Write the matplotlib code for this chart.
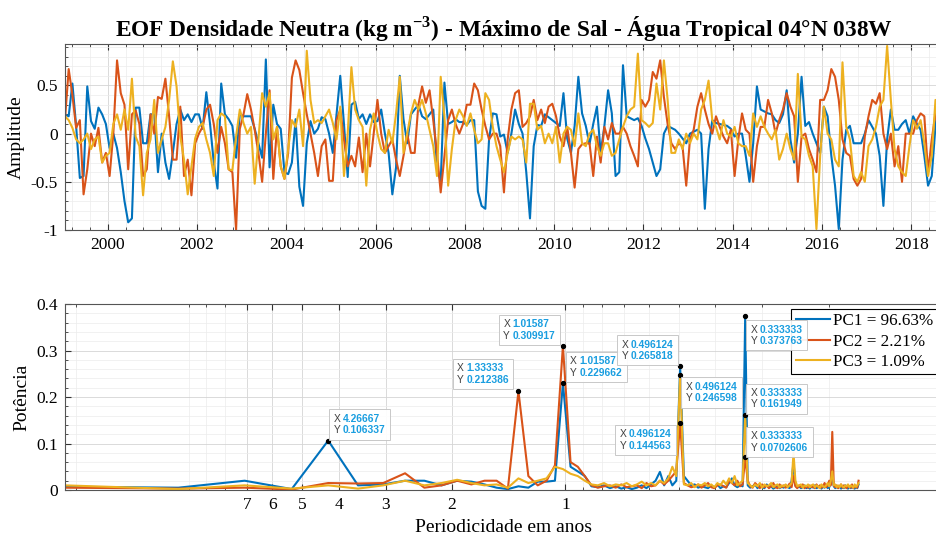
import numpy as np
import matplotlib
matplotlib.use('Agg')
import matplotlib.pyplot as plt
from matplotlib.patches import Rectangle
from matplotlib.ticker import MultipleLocator, FixedLocator, NullFormatter, FuncFormatter

# Monthly principal components, Jan 1999 - Sep 2018 (one row per year)
pc1 = [0.2, 0.18, 0.52, 0.08, -0.46, -0.44, 0.49, 0.13, 0.05, 0.27, 0.2, 0.1,
       -0.15, 0.0, -0.15, -0.4, -0.7, -0.92, -0.88, 0.27, 0.27, -0.1, -0.1, 0.2,
       0.2, -0.4, 0.0, -0.3, -0.47, -0.2, 0.1, 0.25, 0.14, 0.2, 0.12, 0.2,
       0.2, 0.05, 0.43, 0.1, -0.3, -0.57, 0.52, 0.2, 0.15, 0.08, -0.25, 0.2,
       0.18, 0.18, 0.18, 0.05, -0.1, -0.25, 0.77, -0.35, 0.3, 0.1, 0.05, -0.4,
       -0.42, -0.3, 0.15, -0.55, -0.75, -0.1, 0.13, 0.0, 0.05, 0.17, 0.15, 0.0,
       -0.2, 0.2, 0.6, 0.1, -0.45, 0.3, 0.33, 0.15, 0.2, 0.1, 0.2, 0.12,
       0.13, 0.25, 0.0, -0.2, -0.63, -0.35, 0.6, 0.15, -0.1, 0.2, 0.25, 0.3,
       0.18, 0.15, 0.2, 0.25, -0.35, -0.5, 0.53, 0.1, 0.12, 0.15, 0.12, 0.12,
       0.09, 0.14, 0.14, -0.6, -0.75, -0.78, -0.06, 0.21, 0.2, -0.03, -0.01, -0.2,
       0.0, 0.25, 0.1, 0.0, -0.4, -0.88, -0.13, 0.09, 0.08, 0.2, 0.17, 0.14,
       0.11, 0.08, 0.42, -0.05, -0.2, 0.08, 0.59, 0.21, 0.08, -0.11, 0.1, 0.28,
       -0.2, 0.08, 0.45, 0.21, -0.44, -0.4, 0.71, 0.18, 0.16, 0.14, 0.16, 0.08,
       -0.05, -0.16, -0.3, -0.44, -0.37, 0.0, 0.08, 0.06, 0.04, 0.0, -0.05, -0.1,
       0.0, 0.02, 0.04, 0.0, -0.78, -0.16, 0.14, 0.11, 0.1, 0.09, 0.08, 0.05,
       -0.03, 0.0, 0.0, -0.23, -0.5, -0.1, 0.49, 0.25, 0.23, 0.21, 0.2, 0.14,
       0.11, 0.2, 0.45, -0.06, -0.3, 0.0, 0.59, 0.08, 0.12, 0.0, -0.1, -0.2,
       0.28, 0.18, -0.23, -0.54, -0.99, -0.27, 0.04, 0.08, -0.1, -0.1, -0.1, 0.0,
       0.14, 0.07, 0.0, -0.23, -0.75, -0.06, 0.25, 0.04, 0.04, 0.1, 0.14, 0.0,
       0.18, 0.1, 0.04, -0.23, -0.54, -0.44, 0.08, 0.38, 0.0]

pc2 = [0.14, 0.67, 0.4, 0.06, 0.14, -0.63, -0.37, 0.0, -0.13, 0.06, -0.3, -0.2,
       -0.44, 0.0, 0.76, 0.42, 0.3, -0.37, 0.2, 0.24, 0.1, -0.44, -0.37, 0.2,
       0.0, 0.38, 0.36, 0.57, 0.18, -0.27, -0.27, 0.28, -0.44, -0.27, -0.64, -0.1,
       0.0, 0.07, 0.25, 0.3, 0.1, -0.2, 0.07, -0.1, -0.37, -0.4, -1.0, 0.05,
       0.2, 0.41, 0.25, 0.04, -0.2, -0.5, 0.0, 0.45, -0.47, 0.07, -0.34, -0.47,
       -0.2, 0.58, 0.76, 0.66, 0.42, 0.2, 0.0, -0.2, -0.44, -0.13, -0.06, -0.49,
       -0.49, 0.14, 0.25, -0.06, -0.34, -0.23, -0.34, -0.04, -0.4, 0.0, -0.34, 0.0,
       0.35, 0.0, -0.2, -0.13, -0.06, -0.27, -0.44, -0.23, 0.0, -0.2, -0.2, 0.3,
       0.49, 0.32, 0.45, 0.14, -0.2, -0.61, -0.23, 0.14, 0.25, 0.1, 0.0, 0.1,
       0.3, 0.3, 0.52, 0.45, 0.25, 0.08, -0.06, 0.0, 0.0, -0.13, -0.61, -0.06,
       0.25, 0.42, 0.45, 0.07, 0.11, 0.18, 0.35, 0.14, 0.25, 0.11, 0.28, 0.31,
       0.18, -0.03, -0.13, 0.07, -0.2, -0.56, -0.16, -0.11, -0.1, -0.1, -0.44, -0.03,
       -0.3, 0.07, -0.06, 0.11, 0.0, 0.0, 0.07, 0.0, -0.13, -0.23, -0.34, 0.35,
       0.28, 0.35, 0.64, 0.57, 0.76, 0.38, 0.1, -0.1, -0.16, -0.1, -0.13, -0.54,
       -0.06, 0.04, 0.28, 0.42, 0.25, 0.1, 0.0, 0.18, 0.07, -0.03, -0.1, 0.04,
       -0.44, -0.06, 0.21, 0.04, 0.0, -0.5, -0.13, 0.07, 0.07, 0.35, 0.21, 0.0,
       0.14, 0.25, 0.42, 0.28, 0.18, -0.5, -0.03, 0.0, -0.16, -0.27, -0.4, 0.35,
       0.35, 0.45, 0.67, 0.59, 0.35, -0.06, -0.2, -0.23, -0.47, -0.54, -0.47, -0.03,
       0.18, 0.35, 0.31, 0.42, 0.0, -0.16, 0.0, -0.34, -0.13, -0.5, 0.0, 0.0,
       0.0, 0.14, 0.21, 0.18, -0.4, -0.06, 0.21, 0.04, 0.04]

pc3 = [0.18, 0.14, 0.06, -0.06, -0.1, -0.06, 0.0, -0.16, -0.06, -0.03, -0.3, -0.23,
       -0.2, 0.1, 0.2, 0.04, 0.25, 0.04, 0.57, -0.03, -0.13, -0.64, -0.2, -0.06,
       0.35, -0.2, -0.06, 0.07, 0.35, 0.75, 0.49, -0.03, -0.27, -0.63, -0.34, -0.05,
       0.07, 0.11, -0.06, -0.2, -0.44, 0.14, 0.21, 0.18, -0.37, -0.38, -0.03, 0.25,
       0.11, 0.0, 0.07, -0.52, -0.06, 0.42, 0.28, 0.42, -0.06, 0.07, -0.34, -0.47,
       -0.16, 0.14, 0.07, 0.25, -0.13, 0.86, 0.35, 0.11, 0.14, 0.11, 0.18, 0.25,
       0.11, -0.06, 0.28, -0.44, 0.0, 0.69, 0.25, 0.14, 0.07, -0.54, 0.04, 0.21,
       0.0, -0.16, -0.2, 0.04, -0.1, 0.21, 0.59, -0.2, 0.0, 0.21, 0.35, 0.25,
       0.35, 0.21, 0.04, -0.13, -0.44, 0.59, 0.18, -0.54, -0.16, 0.14, 0.25, 0.18,
       0.08, 0.21, 0.04, -0.1, -0.06, 0.42, 0.35, 0.07, -0.13, -0.27, -0.4, -0.2,
       -0.03, -0.06, -0.03, -0.06, -0.3, 0.31, 0.31, 0.04, 0.08, -0.1, 0.0, -0.1,
       0.07, -0.3, 0.0, 0.07, 0.04, -0.13, 0.21, -0.1, -0.13, 0.0, 0.04, -0.13,
       -0.23, -0.1, -0.1, -0.23, -0.2, -0.06, 0.07, 0.18, 0.25, 0.28, 0.83, 0.14,
       0.11, 0.07, 0.11, 0.52, 0.25, 0.76, 0.35, -0.2, -0.2, -0.06, -0.16, 0.0,
       -0.1, 0.0, -0.06, 0.25, 0.35, 0.55, 0.14, 0.07, -0.06, 0.14, 0.0, -0.03,
       0.07, -0.1, -0.13, -0.13, -0.23, 0.21, 0.07, 0.18, 0.07, 0.0, -0.06, 0.04,
       -0.27, -0.16, 0.0, -0.16, -0.27, 0.62, -0.03, -0.06, -0.23, -0.34, -0.99, -0.23,
       0.28, 0.0, -0.06, -0.27, -0.34, 0.74, 0.07, -0.06, -0.44, -0.5, -0.4, -0.5,
       -0.13, -0.06, 0.07, 0.28, 0.35, 0.91, 0.35, -0.16, -0.34, -0.4, -0.44, -0.13,
       0.14, 0.05, 0.14, -0.1, -0.44, -0.23, 0.35, -0.06, -0.5]

# Power spectra, FFT bins k = 1..128 (nfft = 256 months)
spec1 = [0.007, 0.005, 0.02, 0.002, 0.106337, 0.01, 0.012, 0.02, 0.02, 0.01, 0.02, 0.018, 0.012, 0.005, 0.002, 0.008,
         0.005, 0.018, 0.018, 0.02, 0.229662, 0.05, 0.04, 0.03, 0.008, 0.006, 0.01, 0.004, 0.008, 0.003, 0.006, 0.002,
         0.005, 0.01, 0.004, 0.012, 0.02, 0.039, 0.01, 0.03, 0.01, 0.02, 0.265818, 0.03, 0.02, 0.01, 0.012, 0.005,
         0.008, 0.006, 0.004, 0.01, 0.005, 0.012, 0.004, 0.008, 0.006, 0.015, 0.025, 0.01, 0.006, 0.01, 0.008, 0.373763,
         0.01, 0.005, 0.008, 0.012, 0.004, 0.01, 0.006, 0.004, 0.012, 0.005, 0.008, 0.003, 0.006, 0.01, 0.004, 0.007,
         0.005, 0.01, 0.006, 0.004, 0.02, 0.06, 0.01, 0.005, 0.008, 0.004, 0.006, 0.01, 0.004, 0.006, 0.003, 0.008,
         0.005, 0.01, 0.004, 0.006, 0.008, 0.003, 0.007, 0.005, 0.01, 0.004, 0.006, 0.015, 0.03, 0.008, 0.004, 0.006,
         0.005, 0.008, 0.003, 0.006, 0.004, 0.01, 0.005, 0.003, 0.008, 0.004, 0.006, 0.005, 0.003, 0.007, 0.004, 0.012]

spec2 = [0.005, 0.003, 0.005, 0.001, 0.015, 0.014, 0.015, 0.036, 0.005, 0.01, 0.02, 0.012, 0.02, 0.02, 0.003, 0.212386,
         0.03, 0.01, 0.02, 0.053, 0.309917, 0.06, 0.05, 0.03, 0.01, 0.005, 0.008, 0.01, 0.005, 0.012, 0.006, 0.008,
         0.01, 0.004, 0.015, 0.008, 0.01, 0.02, 0.012, 0.02, 0.03, 0.04, 0.144563, 0.015, 0.01, 0.006, 0.008, 0.012,
         0.005, 0.01, 0.015, 0.006, 0.004, 0.01, 0.012, 0.008, 0.005, 0.02, 0.015, 0.01, 0.02, 0.008, 0.012, 0.0702606,
         0.02, 0.008, 0.005, 0.015, 0.01, 0.004, 0.012, 0.006, 0.01, 0.004, 0.008, 0.015, 0.006, 0.004, 0.012, 0.006,
         0.01, 0.005, 0.008, 0.014, 0.006, 0.03, 0.008, 0.004, 0.01, 0.006, 0.012, 0.004, 0.008, 0.005, 0.01, 0.006,
         0.008, 0.004, 0.012, 0.006, 0.01, 0.005, 0.008, 0.015, 0.006, 0.01, 0.02, 0.01, 0.125, 0.01, 0.006, 0.01,
         0.004, 0.008, 0.012, 0.005, 0.01, 0.006, 0.004, 0.01, 0.007, 0.005, 0.012, 0.004, 0.008, 0.006, 0.005, 0.02]

spec3 = [0.01, 0.002, 0.01, 0.003, 0.01, 0.003, 0.01, 0.02, 0.01, 0.015, 0.022, 0.015, 0.01, 0.012, 0.005, 0.025,
         0.015, 0.02, 0.025, 0.05, 0.045, 0.035, 0.03, 0.02, 0.012, 0.01, 0.015, 0.008, 0.012, 0.01, 0.015, 0.008,
         0.012, 0.018, 0.01, 0.015, 0.01, 0.02, 0.015, 0.025, 0.05, 0.03, 0.246598, 0.012, 0.01, 0.015, 0.006, 0.012,
         0.01, 0.015, 0.008, 0.012, 0.006, 0.015, 0.01, 0.02, 0.012, 0.025, 0.015, 0.03, 0.01, 0.015, 0.02, 0.161949,
         0.015, 0.01, 0.006, 0.012, 0.008, 0.015, 0.005, 0.012, 0.008, 0.01, 0.015, 0.006, 0.01, 0.012, 0.005, 0.01,
         0.008, 0.012, 0.006, 0.01, 0.015, 0.08, 0.02, 0.008, 0.01, 0.012, 0.005, 0.01, 0.008, 0.012, 0.006, 0.01,
         0.012, 0.006, 0.01, 0.008, 0.004, 0.012, 0.008, 0.006, 0.01, 0.015, 0.008, 0.02, 0.04, 0.01, 0.012, 0.006,
         0.01, 0.006, 0.012, 0.008, 0.005, 0.01, 0.008, 0.012, 0.006, 0.01, 0.008, 0.005, 0.012, 0.007, 0.01, 0.015]

var_pct = [96.63, 2.21, 1.09]
period_ticks = [7, 6, 5, 4, 3, 2, 1]

# time axis and periods of the fft bins
months = np.arange(len(pc1))
t = 1999 + (months + 0.5) / 12
nfft = 256
k = np.arange(1, len(spec1) + 1)
periods = nfft / (12.0 * k)

colors = ['#0072BD', '#D95319', '#EDB120']

plt.rcParams['font.family'] = ['Liberation Serif', 'DejaVu Serif']
plt.rcParams['mathtext.fontset'] = 'custom'
plt.rcParams['mathtext.rm'] = 'Liberation Serif'
plt.rcParams['mathtext.bf'] = 'Liberation Serif:bold'

fig = plt.figure(figsize=(9.36, 5.38), dpi=100)
ax1 = fig.add_axes([0.0694, 0.5725, 0.938, 0.3457])
ax2 = fig.add_axes([0.0694, 0.0892, 0.938, 0.3457])

fmt = FuncFormatter(lambda v, p: f'{v:g}')


def style_axes(ax):
    ax.set_axisbelow(True)
    ax.grid(True, which='major', color='#d4d4d4', lw=0.6)
    ax.grid(True, which='minor', color='#ececec', lw=0.5)
    ax.tick_params(which='both', direction='in', top=True, right=True,
                   color='#333333', labelsize=12.5, pad=5)
    ax.tick_params(which='major', length=4)
    ax.tick_params(which='minor', length=2)
    for s in ax.spines.values():
        s.set_color('#555555')
        s.set_linewidth(0.8)


# top panel: time series
for pc, c in zip([pc1, pc2, pc3], colors):
    ax1.plot(t, pc, color=c, lw=1.5)
ax1.set_xlim(t[0], t[-1])
ax1.set_ylim(-1, 0.93)
ax1.set_xticks(np.arange(2000, 2019, 2))
ax1.xaxis.set_minor_locator(MultipleLocator(0.4))
ax1.set_yticks([-1, -0.5, 0, 0.5])
ax1.yaxis.set_minor_locator(MultipleLocator(0.1))
ax1.yaxis.set_major_formatter(fmt)
style_axes(ax1)
ax1.set_ylabel('Amplitude', fontsize=14)
ax1.set_title(r'EOF Densidade Neutra (kg m$^{\mathbf{-3}}$) - Máximo de Sal - Água Tropical 04°N 038W',
              fontsize=16.8, fontweight='bold', pad=5)

# bottom panel: spectra
lines = []
for sp, c, v in zip([spec1, spec2, spec3], colors, var_pct):
    ln, = ax2.plot(periods, sp, color=c, lw=1.5, label=f'PC{len(lines) + 1} = {v:.2f}%')
    lines.append(ln)
ax2.set_xscale('log')
ax2.set_xlim(periods.max(), 0.0995)
ax2.xaxis.set_major_locator(FixedLocator(period_ticks))
ax2.xaxis.set_major_formatter(FuncFormatter(lambda v, p: f'{v:g}'))
ax2.xaxis.set_minor_locator(FixedLocator([20, 10, 9, 8, 0.9, 0.8, 0.7, 0.6, 0.5, 0.4, 0.3, 0.2]))
ax2.xaxis.set_minor_formatter(NullFormatter())
ax2.set_ylim(0, 0.4)
ax2.set_yticks([0, 0.1, 0.2, 0.3, 0.4])
ax2.yaxis.set_minor_locator(MultipleLocator(0.02))
ax2.yaxis.set_major_formatter(fmt)
style_axes(ax2)
ax2.set_xlabel('Periodicidade em anos', fontsize=14)
ax2.set_ylabel('Potência', fontsize=14)

leg = ax2.legend(handles=lines, loc='upper right', fontsize=12.3, handlelength=2.0,
                 handletextpad=0.2, borderpad=0.25, labelspacing=0.25,
                 borderaxespad=0.3, fancybox=False, framealpha=1, edgecolor='black')
leg.get_frame().set_linewidth(0.8)
leg.set_zorder(5)

# data tips: (series, bin, ha, va, dx px, dy px) -- box corner relative to the point
spectra = [spec1, spec2, spec3]
tips = [(0, 5, 'left', 'bottom', 1, 1),
        (1, 16, 'right', 'bottom', -5, 2),
        (1, 21, 'right', 'bottom', -3, 1),
        (0, 21, 'left', 'bottom', 3, 1),
        (0, 43, 'right', 'bottom', -2, 1),
        (2, 43, 'left', 'top', 1, -2),
        (1, 43, 'right', 'top', -4, -2),
        (0, 64, 'left', 'top', 1, -4),
        (2, 64, 'left', 'bottom', 1, 1),
        (1, 64, 'left', 'bottom', 1, 0)]

for s, kk, ha, va, dx, dy in tips:
    ax2.plot(periods[kk - 1], spectra[s][kk - 1], 'o', ms=2.8, color='black', zorder=6)

tipfont = dict(fontsize=7.4, family=['Liberation Sans', 'DejaVu Sans'], linespacing=1.2)
fig.canvas.draw()
renderer = fig.canvas.get_renderer()
FW, FH = fig.bbox.width, fig.bbox.height
pad, off = 4.3, 9.6
for s, kk, ha, va, dx, dy in tips:
    x = periods[kk - 1]
    y = spectra[s][kk - 1]
    px, py = ax2.transData.transform((x, y))
    lab = fig.text(0, 0, 'X\nY', ha='left', va='top', color='#404040', zorder=8, **tipfont)
    val = fig.text(0, 0, f'{x:g}\n{y:g}', ha='left', va='top', color='#1a9ee0',
                   fontweight='bold', zorder=8, **tipfont)
    vb = val.get_window_extent(renderer)
    w = off + vb.width + 2 * pad
    h = vb.height + 2 * pad
    bx0 = px + dx if ha == 'left' else px + dx - w
    by0 = py + dy if va == 'bottom' else py + dy - h
    lab.set_position(((bx0 + pad) / FW, (by0 + h - pad) / FH))
    val.set_position(((bx0 + pad + off) / FW, (by0 + h - pad) / FH))
    fig.add_artist(Rectangle((bx0 / FW, by0 / FH), w / FW, h / FH, transform=fig.transFigure,
                             fc='white', ec='#c4c4c4', lw=0.7, alpha=0.93, zorder=7))

fig.savefig('out.png', dpi=100)
